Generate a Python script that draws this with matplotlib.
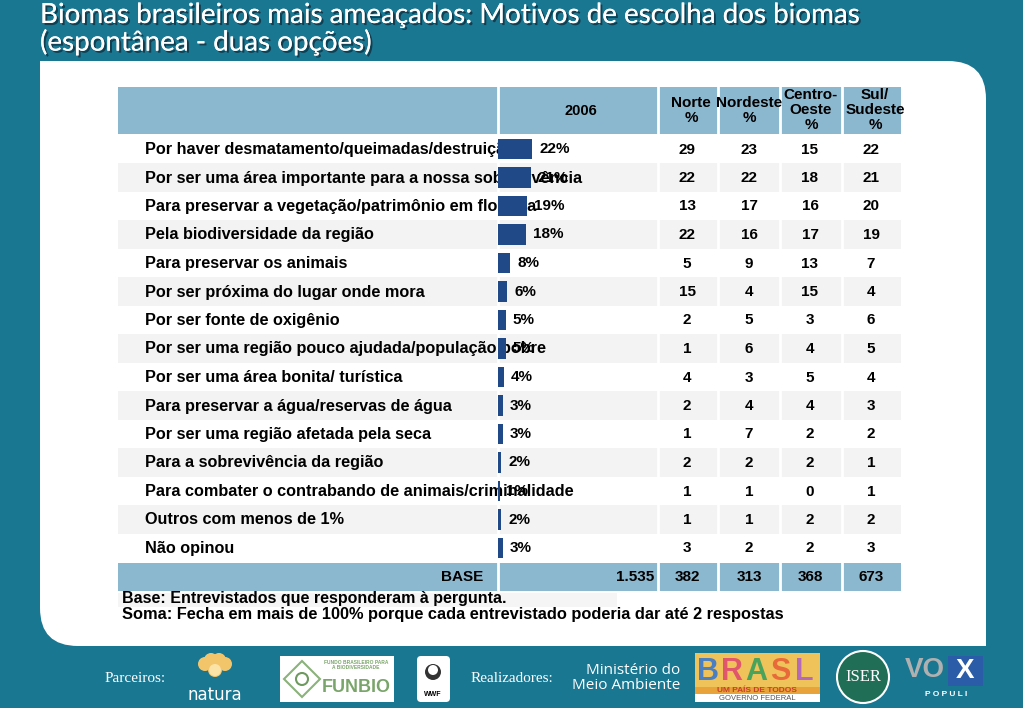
import numpy as np
import matplotlib.pyplot as plt
import matplotlib.patheffects as pe
from matplotlib.patches import Rectangle, PathPatch, Circle, FancyBboxPatch, Polygon
from matplotlib.path import Path

# data
motivos = [
    "Por haver desmatamento/queimadas/destruição",
    "Por ser uma área importante para a nossa sobrevivência",
    "Para preservar a vegetação/patrimônio em floresta",
    "Pela biodiversidade da região",
    "Para preservar os animais",
    "Por ser próxima do lugar onde mora",
    "Por ser fonte de oxigênio",
    "Por ser uma região pouco ajudada/população pobre",
    "Por ser uma área bonita/ turística",
    "Para preservar a água/reservas de água",
    "Por ser uma região afetada pela seca",
    "Para a sobrevivência da região",
    "Para combater o contrabando de animais/criminalidade",
    "Outros com menos de 1%",
    "Não opinou",
]
total_2006 = [22, 21, 19, 18, 8, 6, 5, 5, 4, 3, 3, 2, 1, 2, 3]
norte = [29, 22, 13, 22, 5, 15, 2, 1, 4, 2, 1, 2, 1, 1, 3]
nordeste = [23, 22, 17, 16, 9, 4, 5, 6, 3, 4, 7, 2, 1, 1, 2]
centro_oeste = [15, 18, 16, 17, 13, 15, 3, 4, 5, 4, 2, 2, 0, 2, 2]
sul_sudeste = [22, 21, 20, 19, 7, 4, 6, 5, 4, 3, 2, 1, 1, 2, 3]
regioes = [["Norte", "%"], ["Nordeste", "%"], ["Centro-", "Oeste", "%"], ["Sul/", "Sudeste", "%"]]
base_total = "1.535"
base_regioes = ["382", "313", "368", "673"]

TEAL = '#1a7791'
HEAD = '#8cb8cf'
BAR = '#1f4a87'
GRAY = '#f3f3f3'
FONT = 'Liberation Sans'
FS = 11.7

W, H = 1023, 708
fig = plt.figure(figsize=(W / 100, H / 100), dpi=100)
fig.patch.set_facecolor(TEAL)
bg = fig.add_axes([0, 0, 1, 1])
bg.set_xlim(0, W)
bg.set_ylim(H, 0)
bg.axis('off')

# white panel: rounded top-right and bottom-left
x0, y0, x1, y1, r = 40, 61, 986, 646, 38
verts = [(x0, y0), (x1 - r, y0), (x1, y0), (x1, y0 + r), (x1, y1), (x0 + r, y1),
         (x0, y1), (x0, y1 - r), (x0, y0)]
codes = [Path.MOVETO, Path.LINETO, Path.CURVE3, Path.CURVE3, Path.LINETO, Path.LINETO,
         Path.CURVE3, Path.CURVE3, Path.CLOSEPOLY]
bg.add_patch(PathPatch(Path(verts, codes), facecolor='white', edgecolor='none'))

# title
title = "Biomas brasileiros mais ameaçados: Motivos de escolha dos biomas\n(espontânea - duas opções)"
bg.text(40, 2, title, color='white', fontsize=20, family='Lato', va='top', ha='left',
        linespacing=1.0,
        path_effects=[pe.withSimplePatchShadow(offset=(1.5, -1.5), shadow_rgbFace='#103040', alpha=0.8),
                      pe.Normal()])

# table geometry
tx0, tx1 = 118, 901
head_top, head_bot = 87, 134.75
row_h = 28.5
n = len(motivos)
body_bot = head_bot + n * row_h
base_bot = body_bot + 28.5
col_x = [687, 749, 810, 871]
seps = [497.5, 657.5, 717.5, 779.5, 841.5]

bg.add_patch(Rectangle((tx0, head_top), tx1 - tx0, head_bot - head_top - 1, facecolor=HEAD))
for i in range(n):
    yc = head_bot + (i + 0.5) * row_h + 0.5
    if i % 2 == 1:
        bg.add_patch(Rectangle((tx0, head_bot + i * row_h), tx1 - tx0, row_h, facecolor=GRAY))
    bg.text(145, yc, motivos[i], fontsize=FS, family=FONT, weight='bold', va='center', ha='left')
    for x, vals in zip(col_x, [norte, nordeste, centro_oeste, sul_sudeste]):
        bg.text(x, yc, str(vals[i]), fontsize=11, family=FONT, weight='bold', va='center', ha='center')
bg.add_patch(Rectangle((tx0, body_bot + 1), tx1 - tx0, base_bot - body_bot - 1, facecolor=HEAD))
for s in seps:
    bg.plot([s, s], [head_top, base_bot], color='white', lw=2)

bg.text(581, 111, "2006", fontsize=10.5, family=FONT, weight='bold', va='center', ha='center')
hx = [691, 749, 811, 875]
for x, lines in zip(hx, regioes):
    ys = [103, 118] if len(lines) == 2 else [95, 110, 125]
    for yy, t in zip(ys, lines):
        bg.text(x, yy, t, fontsize=11, family=FONT, weight='bold', va='center', ha='center')

yb = (body_bot + base_bot) / 2 + 0.5
bg.text(483, yb, "BASE", fontsize=11, family=FONT, weight='bold', va='center', ha='right')
bg.text(654, yb, base_total, fontsize=11, family=FONT, weight='bold', va='center', ha='right')
for x, t in zip(col_x, base_regioes):
    bg.text(x, yb, t, fontsize=11, family=FONT, weight='bold', va='center', ha='center')

# notes
bg.add_patch(Rectangle((118, 593), 499, 14, facecolor='#f5f5f5'))
bg.text(122, 599, "Base: Entrevistados que responderam à pergunta.", fontsize=11.5, family=FONT,
        weight='bold', va='center', ha='left')
bg.text(122, 615, "Soma: Fecha em mais de 100% porque cada entrevistado poderia dar até 2 respostas",
        fontsize=11.8, family=FONT, weight='bold', va='center', ha='left')

# bars (own axes over the 2006 column)
px_per_pct = 1.55
bx0, bw = 498, 158
ax = fig.add_axes([bx0 / W, 1 - body_bot / H, bw / W, (body_bot - head_bot) / H])
ax.set_xlim(0, bw / px_per_pct)
ax.set_ylim(n - 0.5, -0.5)
ax.patch.set_alpha(0)
ax.axis('off')
ypos = np.arange(n)
ax.barh(ypos, total_2006, height=0.72, color=BAR)
for y, v in zip(ypos, total_2006):
    ax.annotate(f"{v}%", (v, y), xytext=(5, 0), textcoords='offset points', va='center',
                ha='left', fontsize=11, family=FONT, weight='bold')

# footer
serif = 'Liberation Serif'
bg.text(135, 678, "Parceiros:", color='white', fontsize=11, family=serif, va='center', ha='center')
# natura
for dx, dy in [(-10, -6), (-4, -10), (4, -10), (10, -6), (0, 0)]:
    bg.add_patch(Circle((215 + dx, 670 + dy), 7, facecolor='#f3c56b', edgecolor='none'))
bg.add_patch(Circle((215, 670), 6, facecolor='#fbe2a6', edgecolor='none'))
bg.text(215, 695, "natura", color='white', fontsize=12, family='DejaVu Sans', va='center', ha='center')
# funbio
bg.add_patch(Rectangle((280, 656), 114, 46, facecolor='white'))
bg.add_patch(Polygon([(284, 679), (302, 661), (320, 679), (302, 697)], closed=True,
                     facecolor='none', edgecolor='#8bb27b', lw=1.5))
bg.add_patch(Circle((302, 679), 6, facecolor='none', edgecolor='#6f9a5f', lw=1.5))
bg.text(356, 665, "FUNDO BRASILEIRO PARA\nA BIODIVERSIDADE", color='#7aa56a', fontsize=3.5,
        family=FONT, weight='bold', ha='center', va='center', linespacing=1.1)
bg.text(356, 688, "FUNBIO", color='#7aa56a', fontsize=13, family=FONT, weight='bold',
        ha='center', va='center')
# wwf
bg.add_patch(FancyBboxPatch((417, 656), 33, 46, boxstyle='round,pad=0,rounding_size=4',
                            facecolor='white', edgecolor='none'))
bg.add_patch(Circle((433, 672), 8, facecolor='#333333'))
bg.add_patch(Circle((433, 670), 5, facecolor='white'))
bg.text(433, 694, "WWF", color='black', fontsize=5, family=FONT, weight='bold', ha='center', va='center')

bg.text(512, 678, "Realizadores:", color='white', fontsize=11, family=serif, va='center', ha='center')
bg.text(680, 678, "Ministério do\nMeio Ambiente", color='white', fontsize=11, family='Open Sans',
        va='center', ha='right', linespacing=1.0)
# brasil
bg.add_patch(Rectangle((695, 653), 125, 49, facecolor='#f0c25a'))
for i, (c, l) in enumerate(zip(['#4a7fc1', '#e0566c', '#4aa35a', '#e86a3a', '#b46ab6'], "BRASL")):
    bg.text(708 + i * 24, 672, l, color=c, fontsize=22, family=FONT, weight='bold',
            ha='center', va='center')
bg.add_patch(Rectangle((695, 687), 125, 7, facecolor='#e8a33a'))
bg.text(757, 690.5, "UM PAÍS DE TODOS", color='#c8402a', fontsize=6, family=FONT, weight='bold',
        ha='center', va='center')
bg.add_patch(Rectangle((695, 694), 125, 8, facecolor='white'))
bg.text(757, 698, "GOVERNO FEDERAL", color='#555555', fontsize=5.5, family=FONT,
        ha='center', va='center')
# iser
bg.add_patch(Circle((863, 677), 26, facecolor='#1f6e55', edgecolor='white', lw=1.5))
bg.text(863, 677, "ISER", color='white', fontsize=12, family=serif, ha='center', va='center')
# vox populi
bg.text(925, 670, "VO", color='#b0b0b0', fontsize=20, family=FONT, weight='bold', ha='center', va='center')
bg.add_patch(Rectangle((948, 656), 35, 30, facecolor='#2b5ca8'))
bg.text(965.5, 671, "X", color='white', fontsize=20, family=FONT, weight='bold', ha='center', va='center')
bg.text(946, 694, "P O P U L I", color='white', fontsize=6, family=FONT, weight='bold',
        ha='center', va='center')

fig.savefig('out.png', dpi=100, facecolor=fig.get_facecolor())
